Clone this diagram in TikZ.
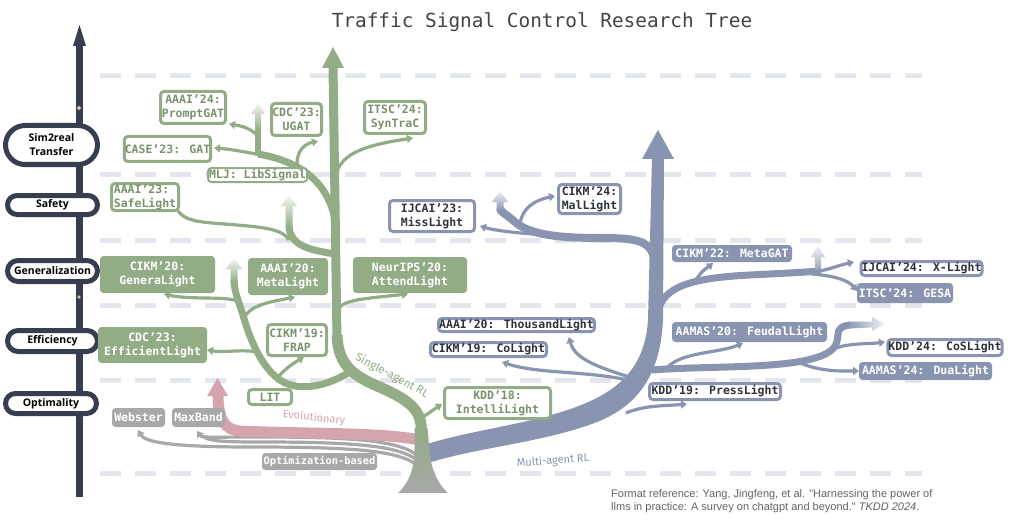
\documentclass[tikz,border=0pt]{standalone}
\usepackage{fontspec}
\setmainfont{DejaVu Sans}
\newfontfamily\monofont{DejaVu Sans Mono}
\newfontfamily\labfont{Open Sans}
\newfontfamily\footfont{Liberation Sans}
\newfontfamily\handfont{Fira Sans}
\usetikzlibrary{arrows.meta,shapes.misc}
\definecolor{G}{RGB}{146,172,133}
\definecolor{GT}{RGB}{120,146,108}
\definecolor{B}{RGB}{137,149,176}
\definecolor{BT}{RGB}{46,50,62}
\definecolor{GR}{RGB}{168,168,170}
\definecolor{PK}{RGB}{214,164,173}
\definecolor{AX}{RGB}{55,62,79}
\definecolor{DS}{RGB}{227,230,236}
\definecolor{TT}{RGB}{68,68,68}
\definecolor{FT}{RGB}{100,100,100}
\definecolor{TAN}{RGB}{232,200,160}
\newcommand\fadeup[5]{\shade[top color=#5!10!white, bottom color=#5] ({#1-#4},#2) -- ({#1-#4},{#3+11}) -- ({#1-2.3*#4},{#3+11}) -- (#1,#3) -- ({#1+2.3*#4},{#3+11}) -- ({#1+#4},{#3+11}) -- ({#1+#4},#2) -- cycle;}
\tikzset{
 bx/.style={rounded corners=3.5pt, font=\monofont\bfseries\fontsize{11.5}{14}\selectfont, align=center, inner xsep=0.5pt, inner ysep=0.5pt},
 wh/.style 2 args={minimum width=#1, minimum height=#2},
 gfill/.style={bx, fill=G, text=white},
 gline/.style={bx, fill=white, draw=G, line width=3pt, text=GT},
 bfill/.style={bx, fill=B, text=white},
 bline/.style={bx, fill=white, draw=B, line width=3pt, text=BT},
 grfill/.style={bx, fill=GR, text=white},
 pill/.style={rounded rectangle, draw=AX, line width=5pt, fill=white, text=black, font=\labfont\bfseries\fontsize{10.5}{14}\selectfont, align=center, inner sep=0pt},
 twig/.style={line width=3.2pt, -{Triangle[length=6pt,width=8pt]}},
 dashline/.style={DS, line width=5pt, dash pattern=on 21pt off 14pt},
}
\begin{document}
\begin{tikzpicture}[x=1pt,y=-1pt]
\useasboundingbox[fill=white] (0,0) rectangle (1012,524);
% dashed guides
\foreach \yy in {76,174,240,305,380,473} \draw[dashline] (100,\yy) -- (922,\yy);
% axis
\draw[AX, line width=7pt] (79.5,497) -- (79.5,43);
\fill[AX] (79.5,25) -- (73,46) -- (86,46) -- cycle;
\fill[TAN, draw=AX, line width=1pt] (79,108) circle (2.5);
\fill[TAN, draw=AX, line width=1pt] (79,297) circle (2.2);
\node[pill, wh={92pt}{39pt}] (sim) at (51.5,145) {Sim2real\\Transfer};
\node[pill, wh={90pt}{19pt}] (safe) at (52.5,205) {Safety};
\node[pill, wh={90pt}{21pt}] (gen) at (52.5,271) {Generalization};
\node[pill, wh={90pt}{21pt}] (eff) at (52.5,341) {Efficiency};
\node[pill, wh={91pt}{20pt}] (opt) at (51,403.5) {Optimality};
% title
\node[font=\monofont\fontsize{19.4}{22}\selectfont, text=TT] (title) at (542,22) {Traffic Signal Control Research Tree};
% gray lines
\draw[GR, twig] (418,466) .. controls (400,450) and (350,447) .. (250,447) .. controls (170,447) and (145,442) .. (138,430);
\draw[GR, line width=3.2pt] (418,461) .. controls (400,445) and (350,442) .. (260,442) .. controls (220,442) and (208,441) .. (203,436);
\draw[GR, twig] (418,456) .. controls (400,440) and (350,437) .. (260,437) .. controls (215,437) and (202,438) .. (197,431);
% pink evolutionary
\draw[PK, line width=11pt] (420,440) .. controls (380,432) and (300,434) .. (240,431) .. controls (225,430) and (218,420) .. (218,394);
\fill[PK] (217.5,378) -- (207,396) -- (228,396) -- cycle;
% blue trunk
\fill[B] (424,445) .. controls (470,430) and (527,425) .. (576,407) .. controls (622,390) and (645,365) .. (648,320) -- (652,158) -- (664,158) -- (663,320) .. controls (660,378) and (636,410) .. (586,426) .. controls (536,443) and (476,448) .. (428,463) -- cycle;
\fill[B] (658,130) -- (642,159) -- (674,159) -- cycle;
% blue branches
\draw[B, line width=8pt] (654,258) .. controls (650,240) and (635,238) .. (600,238) .. controls (560,238) and (530,235) .. (515,222) .. controls (505,213) and (500,212) .. (500,208);
\fadeup{500}{210}{191}{3.5}{B}
\draw[B, line width=7pt] (658,312) .. controls (663,287) and (690,278) .. (750,275) .. controls (790,273) and (808,272) .. (820,271);
\fadeup{818}{273}{246}{3}{B}
\draw[B, line width=7pt] (652,370) .. controls (700,366) and (780,369) .. (815,358) .. controls (835,352) and (837,345) .. (838,335) .. controls (838,328) and (842,326) .. (850,325);
\shade[left color=B, right color=B!10!white] (848,321.5) -- (872,321.5) -- (872,317) -- (885,324) -- (872,331) -- (872,327.5) -- (848,328.5) -- cycle;
\draw[B, twig] (565,236) .. controls (530,234) and (500,232) .. (480,226);
\draw[B, twig] (520,224) .. controls (522,208) and (535,200) .. (555,196);
\draw[B, twig] (816,272) .. controls (830,269) and (840,265) .. (854,262);
\draw[B, twig] (812,274) .. controls (835,276) and (848,280) .. (857,291);
\draw[B, twig] (696,280) .. controls (702,270) and (707,268) .. (713,263);
\draw[B, twig] (836,348) .. controls (850,343) and (870,344) .. (885,342);
\draw[B, twig] (800,363) .. controls (822,372) and (842,371) .. (859,371);
\draw[B, twig] (667,368) .. controls (680,352) and (720,353) .. (743,343);
\draw[B, twig] (626,413) .. controls (645,405) and (665,406) .. (687,404);
\draw[B, twig] (642,381) .. controls (600,368) and (575,360) .. (569,337);
\draw[B, twig] (642,384) .. controls (600,370) and (540,375) .. (502,362);
% green trunk
\draw[G, line width=11pt] (421,452) -- (421,425) .. controls (419,405) and (400,396) .. (375,385) .. controls (350,374) and (338,362) .. (337,335);
\draw[G, line width=9pt] (337,340) -- (333,66);
\fill[G] (333,47) -- (322,68) -- (344,68) -- cycle;
% green left branch
\draw[G, line width=7pt] (348,373) .. controls (325,387) and (298,392) .. (280,380) .. controls (262,368) and (250,340) .. (243,315) .. controls (238,300) and (234,290) .. (234,280);
\fadeup{234}{282}{258}{3.5}{G}
\draw[G, line width=7pt] (335,254) .. controls (310,250) and (290,246) .. (289,226);
\fadeup{289}{228}{195}{3.5}{G}
\draw[G, line width=3.2pt] (289,240) .. controls (282,228) and (260,227) .. (225,224) .. controls (195,222) and (185,220) .. (178,211);
\draw[G, line width=7pt] (334,215) .. controls (326,183) and (303,162) .. (258,154);
\draw[G, line width=6pt] (258,156) -- (258,128);
\fadeup{258}{130}{103}{3}{G}
\draw[G, twig] (262,155) .. controls (240,151) and (228,149) .. (214,148);
\draw[G, twig] (258,136) .. controls (250,128) and (242,126) .. (229,124);
\draw[G, twig] (297,164) .. controls (297,150) and (305,144) .. (318,141);
\draw[G, twig] (335,180) .. controls (338,155) and (360,146) .. (413,138);
\draw[G, twig] (337,312) .. controls (340,300) and (360,299) .. (408,294);
\draw[G, twig] (421,418) .. controls (428,414) and (433,410) .. (442,404);
\draw[G, twig] (276,379) .. controls (285,369) and (292,364) .. (304,357);
\draw[G, twig] (258,352) .. controls (240,349) and (225,353) .. (207,350);
\draw[G, twig] (244,318) .. controls (250,305) and (270,302) .. (295,297);
\draw[G, twig] (237,301) .. controls (225,296) and (190,300) .. (164,294);
% root
\shade[top color=G, bottom color=GR] (414.5,428) -- (414.5,450) .. controls (414,468) and (410,482) .. (398,493) -- (448,493) .. controls (436,482) and (431,468) .. (429.5,450) -- (427.5,428) -- cycle;
% green boxes
\node[gline, wh={65pt}{32pt}] (promptgat) at (193,107.5) {AAAI’24:\\PromptGAT};
\node[gline, wh={50pt}{32pt}] (ugat) at (296.5,119.5) {CDC’23:\\UGAT};
\node[gline, wh={61pt}{32pt}] (syntrac) at (395,117.5) {ITSC’24:\\SynTraC};
\node[gline, wh={86pt}{25pt}] (gat) at (167.5,149) {CASE’23: GAT};
\node[gline, line width=2pt, wh={99pt}{14pt}] (libsignal) at (257.5,175) {MLJ: LibSignal};
\node[gline, align=left, wh={67pt}{27pt}] (safelight) at (145,197) {AAAI’23:\\SafeLight};
\node[gfill, wh={115pt}{37pt}] (generalight) at (157.5,274.5) {CIKM’20:\\GeneraLight};
\node[gfill, wh={80pt}{37pt}] (metalight) at (288,276.5) {AAAI’20:\\MetaLight};
\node[gfill, wh={114pt}{36pt}] (attendlight) at (410,275) {NeurIPS’20:\\AttendLight};
\node[gline, wh={59pt}{31pt}] (frap) at (297,340) {CIKM’19:\\FRAP};
\node[gfill, wh={109pt}{36pt}] (efficientlight) at (152.5,345) {CDC’23:\\EfficientLight};
\node[gline, wh={43pt}{15pt}] (lit) at (270,397) {LIT};
\node[gline, wh={106pt}{31pt}] (intellilight) at (497.5,403) {KDD’18:\\IntelliLight};
% blue boxes
\node[bline, wh={85pt}{31pt}] (misslight) at (432,216) {IJCAI’23:\\MissLight};
\node[bline, wh={62pt}{29pt}] (mallight) at (589.5,199) {CIKM’24:\\MalLight};
\node[bfill, wh={120pt}{17pt}] (metagat) at (732,253.5) {CIKM’22: MetaGAT};
\node[bline, wh={120pt}{14pt}] (xlight) at (921.5,268.5) {IJCAI’24: X-Light};
\node[bfill, wh={96pt}{20pt}] (gesa) at (905,293) {ITSC’24: GESA};
\node[bline, wh={156pt}{13pt}] (thousandlight) at (516.5,325) {AAAI’20: ThousandLight};
\node[bline, wh={116pt}{14pt}] (colight) at (488.5,349.5) {CIKM’19: CoLight};
\node[bfill, wh={155pt}{20pt}] (feudallight) at (749.5,332) {AAMAS’20: FeudalLight};
\node[bline, wh={113pt}{16pt}] (coslight) at (945,347.5) {KDD’24: CoSLight};
\node[bfill, wh={133pt}{18pt}] (dualight) at (925.5,371) {AAMAS’24: DuaLight};
\node[bline, wh={131pt}{16pt}] (presslight) at (715,391.5) {KDD’19: PressLight};
% gray boxes
\node[grfill, wh={53pt}{19pt}] (webster) at (138.5,417.5) {Webster};
\node[grfill, wh={53pt}{19pt}] (maxband) at (198.5,417.5) {MaxBand};
\node[grfill, font=\monofont\bfseries\fontsize{10.3}{12}\selectfont, wh={115pt}{17pt}] (optim) at (319.5,461.5) {Optimization-based};
% branch labels
\node[font=\handfont\fontsize{11.5}{12}\selectfont, text=G, rotate=-28, inner sep=0pt] (sarl) at (392,376) {Single-agent RL};
\node[font=\handfont\fontsize{11}{12}\selectfont, text=PK, rotate=-6, inner sep=0pt] (evo) at (314,418) {Evolutionary};
\node[font=\handfont\fontsize{11}{12}\selectfont, text=B, rotate=4, inner sep=0pt] (marl) at (553,461) {Multi-agent RL};
% footer
\node[anchor=north west, align=left, inner sep=0pt, font=\footfont\fontsize{11}{13.5}\selectfont, text=FT] (foot) at (611,489) {Format reference: Yang, Jingfeng, et al. "Harnessing the power of\\llms in practice: A survey on chatgpt and beyond." \textit{TKDD 2024}.};
\end{tikzpicture}
\end{document}
